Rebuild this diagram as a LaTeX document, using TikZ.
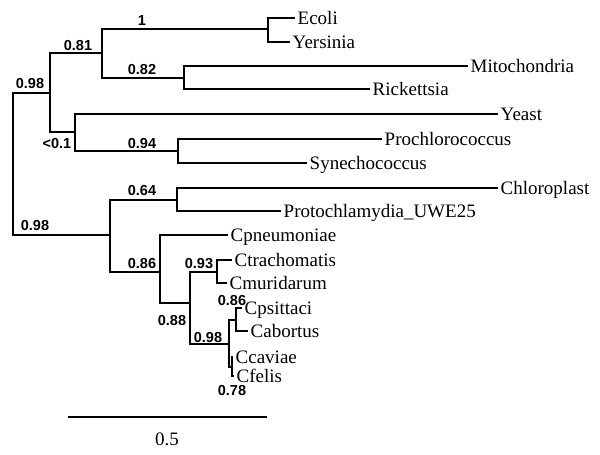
\documentclass[tikz,border=0pt]{standalone}
\usepackage{fontspec}
\setmainfont{Liberation Serif}
\newfontfamily\supportfont{Liberation Sans}
\usepackage{tikz}

\begin{document}
\begin{tikzpicture}[x=1pt, y=-1pt]
    \useasboundingbox (0,0) rectangle (600,455);
    % inner nodes of the tree
    \coordinate (root) at (13, 164);
    \coordinate (n1)   at (50, 93);
    \coordinate (n81)  at (102, 53);
    \coordinate (nEY)  at (268, 29);
    \coordinate (n82)  at (184, 78);
    \coordinate (nLow) at (75, 132);
    \coordinate (n94)  at (178, 151);
    \coordinate (n2)   at (110, 235);
    \coordinate (n64)  at (177, 200);
    \coordinate (n86)  at (160, 272);
    \coordinate (n88)  at (190, 303);
    \coordinate (n93)  at (217, 272);
    \coordinate (n98)  at (229, 344);
    \coordinate (n86b) at (236, 320);
    \coordinate (n78)  at (232, 367);
    % leaves
    \begin{scope}[every node/.style = {anchor=west, inner sep=2.5pt, text height=12.6pt, text depth=0pt, font=\fontsize{19}{20}\selectfont}]
      \node (ecoli)     at (295, 18)  {Ecoli};
      \node (yersinia)  at (290, 42)  {Yersinia};
      \node (mito)      at (468, 66)  {Mitochondria};
      \node (rick)      at (370, 89)  {Rickettsia};
      \node (yeast)     at (498, 114) {Yeast};
      \node (prochloro) at (382, 139) {Prochlorococcus};
      \node (synecho)   at (307, 163) {Synechococcus};
      \node (chloro)    at (498, 188) {Chloroplast};
      \node (protochl)  at (281, 211) {Protochlamydia\_UWE25};
      \node (cpneu)     at (228, 235) {Cpneumoniae};
      \node (ctrach)    at (232, 260) {Ctrachomatis};
      \node (cmurid)    at (227, 283) {Cmuridarum};
      \node (cpsitt)    at (242, 308) {Cpsittaci};
      \node (cabort)    at (248, 331) {Cabortus};
      \node (ccav)      at (233, 357) {Ccaviae};
      \node (cfel)      at (234, 376) {Cfelis};
    \end{scope}
    % branches
    \begin{scope}[line width=2.3pt]
      \draw (root) |- (n1);
      \draw (root) |- (n2);
      \draw (n1)   |- (n81);
      \draw (n1)   |- (nLow);
      \draw (n81)  |- (nEY);
      \draw (n81)  |- (n82);
      \draw (nEY)  |- (ecoli.west);
      \draw (nEY)  |- (yersinia.west);
      \draw (n82)  |- (mito.west);
      \draw (n82)  |- (rick.west);
      \draw (nLow) |- (yeast.west);
      \draw (nLow) |- (n94);
      \draw (n94)  |- (prochloro.west);
      \draw (n94)  |- (synecho.west);
      \draw (n2)   |- (n64);
      \draw (n2)   |- (n86);
      \draw (n64)  |- (chloro.west);
      \draw (n64)  |- (protochl.west);
      \draw (n86)  |- (cpneu.west);
      \draw (n86)  |- (n88);
      \draw (n88)  |- (n93);
      \draw (n88)  |- (n98);
      \draw (n93)  |- (ctrach.west);
      \draw (n93)  |- (cmurid.west);
      \draw (n98)  |- (n86b);
      \draw (n98)  |- (n78);
      \draw (n86b) |- (cpsitt.west);
      \draw (n86b) |- (cabort.west);
      \draw (n78)  |- (ccav.west);
      \draw (n78)  |- (cfel.west);
    \end{scope}
    % support values
    \begin{scope}[every node/.style = {inner sep=0pt, text height=10pt, text depth=0pt, font=\supportfont\bfseries\fontsize{14.5}{14.5}\selectfont}]
      \node (sEY)    at (142, 20)  {1};
      \node (s81)    at (78, 45)   {0.81};
      \node (sUp)    at (30, 83)   {0.98};
      \node (s82)    at (142, 69)  {0.82};
      \node (sLow)   at (57, 143)  {<0.1};
      \node (s94)    at (142, 143) {0.94};
      \node (s64)    at (142, 190) {0.64};
      \node (sDown)  at (35, 225)  {0.98};
      \node (s86)    at (142, 263) {0.86};
      \node (s93)    at (199, 263) {0.93};
      \node (s88)    at (172, 320) {0.88};
      \node (s98)    at (208, 337) {0.98};
      \node (s86b)   at (232, 300) {0.86};
      \node (s78)    at (232, 390) {0.78};
    \end{scope}
    % scale bar
    \coordinate (barL) at (68, 417);
    \coordinate (barR) at (267, 417);
    \draw[line width=2.3pt] (barL) -- (barR);
    \node[inner sep=0pt, text height=12.8pt, text depth=0pt, font=\fontsize{19}{20}\selectfont] (barLabel) at (167, 439) {0.5};
  \end{tikzpicture}
\end{document}
